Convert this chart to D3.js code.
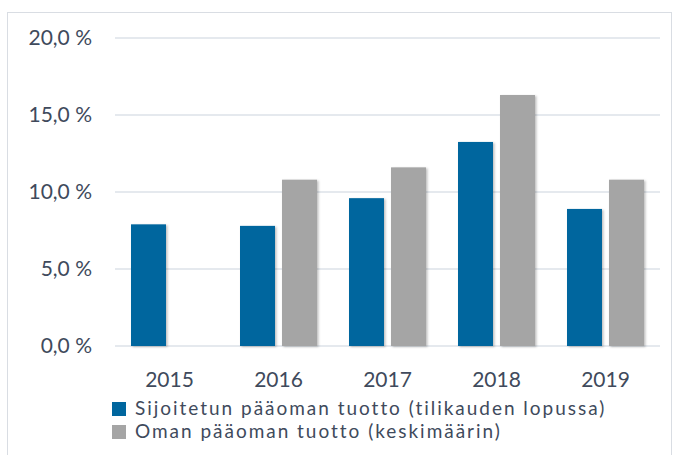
<!DOCTYPE html>
<html>
<head>
<meta charset="utf-8">
<script src="https://cdn.jsdelivr.net/npm/d3@7"></script>
<style>
  body { margin: 0; background: #fff; }
  svg { display: block; font-family: Lato, "Open Sans", sans-serif; }
</style>
</head>
<body>
<svg id="chart" width="675" height="455"></svg>
<script>
// Data
const years = ["2015", "2016", "2017", "2018", "2019"];
const sijoitettu = [7.9, 7.8, 9.6, 13.25, 8.9];
const omaPaaoma = [null, 10.8, 11.6, 16.3, 10.8];
const yTicks = [0, 5, 10, 15, 20];
const seriesNames = [
    "Sijoitetun pääoman tuotto (tilikauden lopussa)",
    "Oman pääoman tuotto (keskimäärin)",
];
const colors = ["#00669e", "#a5a5a5"];

const svg = d3.select("#chart");
const textColor = "#404a5c";

// frame
svg.append("rect")
    .attr("x", 7.5).attr("y", 12.5)
    .attr("width", 664).attr("height", 460)
    .attr("fill", "none")
    .attr("stroke", "#d9dde3");

const margin = { left: 115, right: 660, top: 38, bottom: 346 };

const x = d3.scaleBand().domain(years).range([margin.left, margin.right]);
const y = d3.scaleLinear().domain([0, 20]).range([margin.bottom, margin.top]);

// drop shadow
const defs = svg.append("defs");
const f = defs.append("filter").attr("id", "shadow")
    .attr("x", "-20%").attr("y", "-5%").attr("width", "150%").attr("height", "115%");
f.append("feDropShadow")
    .attr("dx", 1.5).attr("dy", 1).attr("stdDeviation", 1.2)
    .attr("flood-color", "#000").attr("flood-opacity", 0.25);

// gridlines
svg.append("g")
    .selectAll("line")
    .data(yTicks)
    .join("line")
    .attr("x1", margin.left).attr("x2", margin.right)
    .attr("y1", (d) => y(d)).attr("y2", (d) => y(d))
    .attr("stroke", "#dde2e8")
    .attr("stroke-width", 1.5);

// y labels
const fmt = (d) => d3.format(".1f")(d).replace(".", ",") + " %";
svg.append("g")
    .selectAll("text")
    .data(yTicks)
    .join("text")
    .attr("x", 92)
    .attr("y", (d) => y(d))
    .attr("dy", "0.35em")
    .attr("text-anchor", "end")
    .attr("font-size", 21)
    .attr("fill", textColor)
    .text(fmt);

// bars
const barW = 35, gap = 7;
const offset = (x.bandwidth() - (2 * barW + gap)) / 2;
const series = [sijoitettu, omaPaaoma];
series.forEach((vals, si) => {
    svg.append("g")
        .selectAll("rect")
        .data(years.map((yr, i) => ({ yr, v: vals[i] })).filter((d) => d.v != null))
        .join("rect")
        .attr("x", (d) => x(d.yr) + offset + si * (barW + gap))
        .attr("y", (d) => y(d.v))
        .attr("width", barW)
        .attr("height", (d) => y(0) - y(d.v))
        .attr("fill", colors[si])
        .attr("filter", "url(#shadow)");
});

// x labels
svg.append("g")
    .selectAll("text")
    .data(years)
    .join("text")
    .attr("x", (d) => x(d) + x.bandwidth() / 2)
    .attr("y", 387)
    .attr("text-anchor", "middle")
    .attr("font-size", 21)
    .attr("fill", textColor)
    .text((d) => d);

// legend
const legend = svg.append("g");
let spacing = null;
seriesNames.forEach((name, i) => {
    const ly = 401 + i * 23;
    legend.append("rect")
        .attr("x", 112).attr("y", ly + 1)
        .attr("width", 14).attr("height", 14)
        .attr("fill", colors[i]);
    const t = legend.append("text")
        .attr("x", 135).attr("y", ly + 14)
        .attr("font-size", 19)
        .attr("fill", textColor)
        .text(name);
    // reference text is a bit wider than the font's natural width:
    // first line runs to about x=606
    if (spacing == null) {
        const w = t.node().getComputedTextLength();
        spacing = Math.max(0, (471 - w) / name.length);
    }
    t.attr("letter-spacing", spacing);
});
</script>
</body>
</html>
